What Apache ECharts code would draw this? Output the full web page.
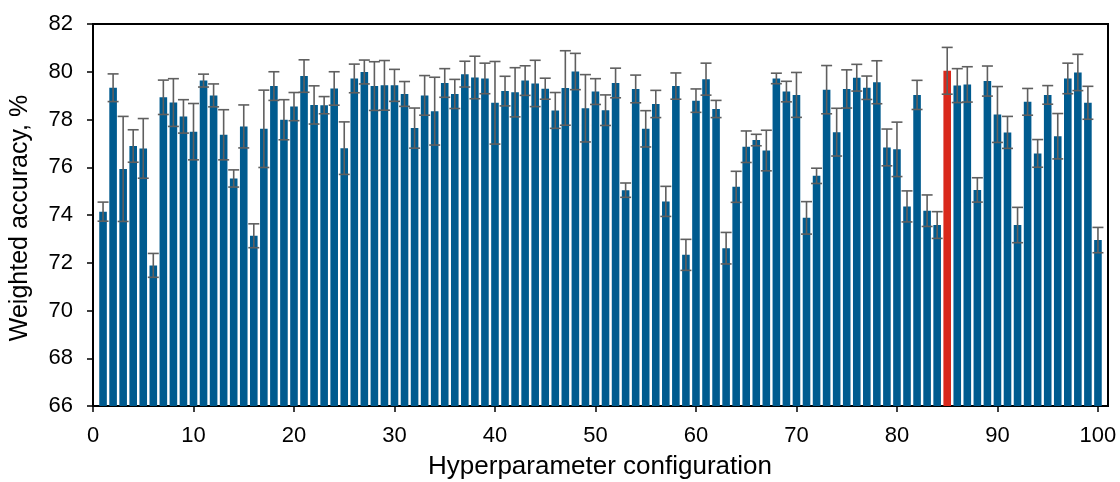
<!DOCTYPE html>
<html>
<head>
<meta charset="utf-8">
<script src="https://cdn.jsdelivr.net/npm/echarts@6/dist/echarts.min.js"></script>
<style>
  html, body { margin: 0; padding: 0; background: #fff; }
  #chart { width: 1120px; height: 482px; }
</style>
</head>
<body>
<div id="chart"></div>
<script>
// Weighted accuracy (%) per hyperparameter configuration, with its spread
const configs = Array.from({ length: 100 }, (_, i) => i + 1);
const accuracy = [
  74.14, 79.33, 75.93, 76.89, 76.79, 71.89, 78.93, 78.71, 78.13, 77.49,
  79.63, 79.01, 77.36, 75.53, 77.71, 73.13, 77.61, 79.40, 77.99, 78.54,
  79.82, 78.61, 78.60, 79.30, 76.80, 79.72, 79.99, 79.40, 79.43, 79.43,
  79.07, 77.64, 79.01, 78.35, 79.53, 79.07, 79.90, 79.76, 79.72, 78.70,
  79.19, 79.14, 79.63, 79.51, 79.29, 78.38, 79.32, 80.01, 78.47, 79.17,
  78.39, 79.53, 75.04, 79.28, 77.61, 78.65, 74.57, 79.40, 72.33, 78.79,
  79.69, 78.44, 72.61, 75.18, 76.86, 77.14, 76.70, 79.72, 79.17, 79.03,
  73.88, 75.64, 79.25, 77.47, 79.28, 79.75, 79.33, 79.56, 76.83, 76.75,
  74.36, 79.03, 74.18, 73.58, 80.04, 79.42, 79.47, 75.05, 79.61, 78.21,
  77.46, 73.58, 78.74, 76.58, 79.03, 77.30, 79.72, 79.97, 78.70, 72.95
];
const spread = [
  0.40, 0.58, 2.20, 0.68, 1.25, 0.50, 0.72, 1.00, 0.70, 1.18,
  0.27, 0.48, 1.05, 0.36, 0.90, 0.50, 1.62, 0.60, 0.84, 0.59,
  0.68, 0.80, 0.36, 0.70, 1.10, 0.60, 0.50, 1.02, 1.04, 0.67,
  0.52, 0.84, 0.83, 1.42, 0.60, 0.61, 0.54, 0.89, 0.64, 1.73,
  0.62, 1.03, 0.62, 0.97, 0.44, 0.75, 1.56, 0.76, 1.41, 0.54,
  0.64, 0.62, 0.30, 0.58, 0.76, 0.57, 0.63, 0.55, 0.65, 0.49,
  0.67, 0.36, 0.66, 0.65, 0.66, 0.24, 0.85, 0.22, 0.43, 0.94,
  0.68, 0.32, 1.01, 1.00, 0.80, 0.56, 0.49, 0.90, 0.77, 1.14,
  0.65, 0.61, 0.66, 0.56, 0.98, 0.71, 0.74, 0.51, 0.63, 1.17,
  0.67, 0.74, 0.56, 0.58, 0.39, 0.95, 0.64, 0.76, 0.69, 0.53
];
const bestConfig = 85;
const xTicks = [0, 10, 20, 30, 40, 50, 60, 70, 80, 90, 100];
const yTicks = [66, 68, 70, 72, 74, 76, 78, 80, 82];

const barColor = '#005b8f';
const bestColor = '#d9281b';
const font = '"Liberation Sans", Arial, sans-serif';

const barData = configs.map((c, i) => ({
  value: [c, accuracy[i]],
  itemStyle: { color: c === bestConfig ? bestColor : barColor }
}));
const errData = configs.map((c, i) => [c, accuracy[i], spread[i]]);

const chart = echarts.init(document.getElementById('chart'), null, { renderer: 'canvas' });

chart.setOption({
  animation: false,
  backgroundColor: '#fff',
  grid: {
    left: 93, right: 12, top: 24, bottom: 76,
    show: true, borderColor: '#000', borderWidth: 2, backgroundColor: 'transparent'
  },
  xAxis: {
    type: 'value',
    min: 0, max: 101, interval: 10,
    axisLine: { show: true, onZero: false, lineStyle: { color: '#000', width: 2 } },
    axisTick: { show: true, inside: false, length: 6, customValues: xTicks, lineStyle: { color: '#000', width: 1.5 } },
    axisLabel: {
      customValues: xTicks,
      formatter: v => (v % 10 === 0 ? String(v) : ''),
      color: '#000', fontFamily: font, fontSize: 22, margin: 19
    },
    splitLine: { show: false }
  },
  yAxis: {
    type: 'value',
    min: 66, max: 82, interval: 2,
    axisLine: { show: true, lineStyle: { color: '#000', width: 2 } },
    axisTick: { show: true, inside: false, length: 6, customValues: yTicks, lineStyle: { color: '#000', width: 1.5 } },
    axisLabel: { customValues: yTicks, color: '#000', fontFamily: font, fontSize: 22, margin: 20 },
    splitLine: { show: false }
  },
  graphic: [
    {
      type: 'text', x: 600, y: 454,
      style: { text: 'Hyperparameter configuration', fill: '#000', font: '26px ' + font,
               align: 'center', verticalAlign: 'top' }
    },
    {
      type: 'text', x: 8, y: 218, rotation: Math.PI / 2,
      style: { text: 'Weighted accuracy, %', fill: '#000', font: '25px ' + font,
               align: 'center', verticalAlign: 'top' }
    }
  ],
  series: [
    {
      type: 'bar',
      data: barData,
      barWidth: 7.6,
      z: 2
    },
    {
      type: 'custom',
      data: errData,
      z: 3,
      renderItem: (params, api) => {
        const x = api.value(0), v = api.value(1), e = api.value(2);
        const hi = api.coord([x, v + e]);
        const lo = api.coord([x, v - e]);
        const cap = 5.5;
        const style = { stroke: '#5f5f5f', lineWidth: 1.6 };
        return {
          type: 'group',
          children: [
            { type: 'line', shape: { x1: hi[0], y1: hi[1], x2: lo[0], y2: lo[1] }, style },
            { type: 'line', shape: { x1: hi[0] - cap, y1: hi[1], x2: hi[0] + cap, y2: hi[1] }, style },
            { type: 'line', shape: { x1: lo[0] - cap, y1: lo[1], x2: lo[0] + cap, y2: lo[1] }, style }
          ]
        };
      }
    }
  ]
});
</script>
</body>
</html>
